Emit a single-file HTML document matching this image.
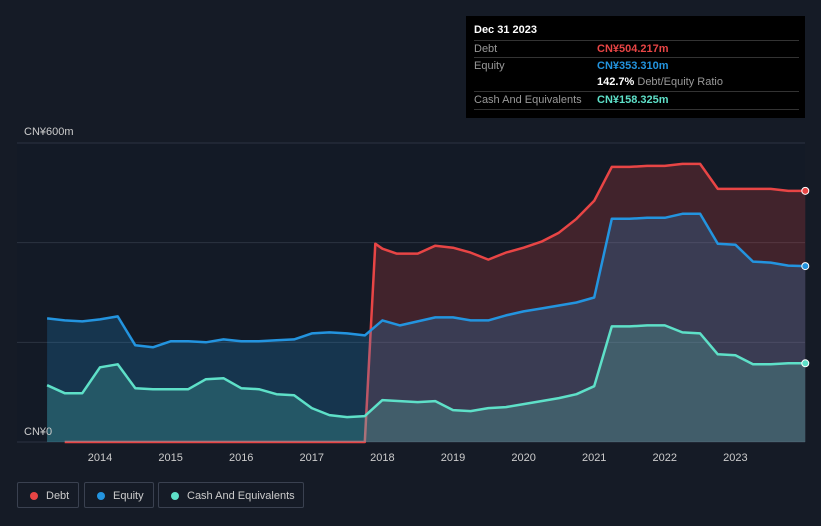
<!DOCTYPE html>
<html><head><meta charset="utf-8"><style>
body{margin:0;width:821px;height:526px;background:#151b26;font-family:"Liberation Sans",sans-serif;overflow:hidden;position:relative}
.tt{position:absolute;left:466px;top:16px;width:339px;height:102px;background:#000;color:#fff;font-size:11px}
.row{position:absolute;left:8px;right:6px;height:17px;border-top:1px solid #333;line-height:17px}
.row span{position:absolute;left:123px;font-weight:bold}
.lab{color:#999}
.leg{position:absolute;top:482px;height:26px;border:1px solid #3a4150;border-radius:2px;color:#ccc;font-size:11px;line-height:26px;box-sizing:border-box;padding-left:28px}
.leg i{position:absolute;left:12px;top:9px;width:8px;height:8px;border-radius:50%}
</style></head><body>
<div class="tt">
<div style="position:absolute;left:8px;top:8px;font-weight:bold">Dec 31 2023</div>
<div class="row" style="top:24px"><b class="lab" style="font-weight:normal">Debt</b><span style="color:#e84545">CN¥504.217m</span></div>
<div class="row" style="top:41px"><b class="lab" style="font-weight:normal">Equity</b><span style="color:#2394df">CN¥353.310m</span></div>
<div class="row" style="top:58px;border-top:none"><span>142.7% <b style="color:#999;font-weight:normal">Debt/Equity Ratio</b></span></div>
<div class="row" style="top:75px;border-bottom:1px solid #333"><b class="lab" style="font-weight:normal">Cash And Equivalents</b><span style="color:#5ee0c8">CN¥158.325m</span></div>
</div>
<svg id="c" width="821" height="526" style="position:absolute;left:0;top:0"></svg>
<div class="leg" style="left:17px;width:62px"><i style="background:#e84545"></i>Debt</div>
<div class="leg" style="left:84px;width:70px"><i style="background:#2394df"></i>Equity</div>
<div class="leg" style="left:158px;width:146px"><i style="background:#5ee0c8"></i>Cash And Equivalents</div>
<script>
const yearTicks=[2014,2015,2016,2017,2018,2019,2020,2021,2022,2023];
const debtT=[2013.5,2017.75,2017.9,2018,2018.2,2018.5,2018.75,2019,2019.25,2019.5,2019.75,2020,2020.25,2020.5,2020.75,2021,2021.25,2021.5,2021.75,2022,2022.25,2022.5,2022.75,2023,2023.25,2023.5,2023.75,2023.99];
const debtV=[0,0,398,388,378,378,394,390,380,366,380,390,402,420,448,484,552,552,554,554,558,558,508,508,508,508,504,504];
const qT=[2013.25,2013.5,2013.75,2014,2014.25,2014.5,2014.75,2015,2015.25,2015.5,2015.75,2016,2016.25,2016.5,2016.75,2017,2017.25,2017.5,2017.75,2018,2018.25,2018.5,2018.75,2019,2019.25,2019.5,2019.75,2020,2020.25,2020.5,2020.75,2021,2021.25,2021.5,2021.75,2022,2022.25,2022.5,2022.75,2023,2023.25,2023.5,2023.75,2023.99];
const equityV=[248,244,242,246,252,194,190,202,202,200,206,202,202,204,206,218,220,218,214,244,234,242,250,250,244,244,254,262,268,274,280,290,448,448,450,450,458,458,398,396,362,360,354,353];
const cashV=[114,98,98,150,156,108,106,106,106,126,128,108,106,96,94,68,54,50,52,84,82,80,82,64,62,68,70,76,82,88,96,112,232,232,234,234,220,218,176,174,156,156,158,158];
const X=t=>100+(t-2014)*70.6, Y=v=>442-v*0.4983;
const s=document.getElementById('c'),NS='http://www.w3.org/2000/svg';
function el(tag,a,name){const e=document.createElementNS(NS,tag);for(const k in a)e.setAttribute(k,a[k]);


s.appendChild(e);return e;}
el('rect',{x:17,y:143,width:788,height:299,fill:'#131a26'},'plot-bg');
[0,200,400,600].forEach(v=>el('line',{x1:17,x2:805,y1:Y(v),y2:Y(v),stroke:'#2c3341','stroke-width':1},'gridline'));
function path(T,V){return T.map((t,i)=>(i?'L':'M')+X(t).toFixed(1)+','+Y(V[i]).toFixed(1)).join('');}
function series(T,V,col,fill,name){
 const p=path(T,V);
 el('path',{d:p+'L'+X(T[T.length-1])+','+Y(0)+'L'+X(T[0])+','+Y(0)+'Z',fill:fill},name+'-area');
 el('path',{d:p,fill:'none',stroke:col,'stroke-width':2.5,'stroke-linejoin':'round'},name+'-line');
 el('circle',{cx:X(T[T.length-1]),cy:Y(V[V.length-1]),r:3.5,fill:col,stroke:'#fff','stroke-width':1},name+'-end-dot');
}
series(debtT,debtV,'#e84545','rgba(232,69,69,0.22)','debt');
series(qT,equityV,'#2394df','rgba(35,148,223,0.22)','equity');
series(qT,cashV,'#5ee0c8','rgba(94,224,200,0.2)','cash');
yearTicks.forEach(y=>{const t=el('text',{x:X(y),y:461,fill:'#ccc','font-size':11,'text-anchor':'middle'},'x-tick-label');t.textContent=y;});
let t=el('text',{x:24,y:135,fill:'#ccc','font-size':11},'y-axis-max-label');t.textContent='CN¥600m';
t=el('text',{x:24,y:435,fill:'#ccc','font-size':11},'y-axis-zero-label');t.textContent='CN¥0';
</script>
</body></html>
